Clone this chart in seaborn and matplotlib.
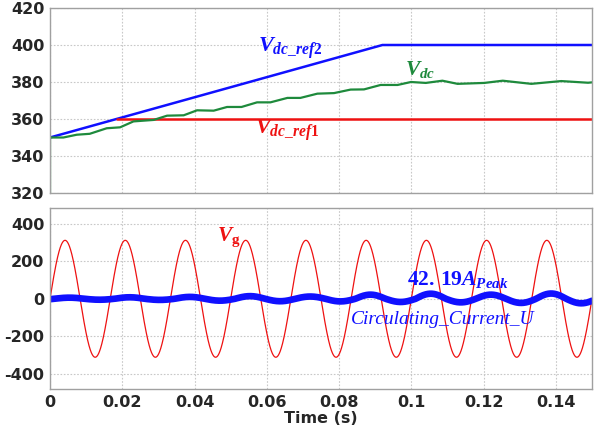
import numpy as np
import pandas as pd
import matplotlib
matplotlib.use("Agg")
import matplotlib.pyplot as plt
import seaborn as sns

# ---------------- data ----------------
# DC-link voltage Vdc (t in s, V)
vdc_t = [0.0, 0.0, 0.0037, 0.0074, 0.011, 0.0157, 0.0194, 0.0231, 0.0287, 0.0324,
         0.037, 0.0407, 0.0453, 0.049, 0.053, 0.0573, 0.061, 0.0657, 0.0693,
         0.074, 0.0786, 0.0832, 0.0869, 0.0915, 0.0962, 0.0999, 0.104, 0.1086,
         0.1128, 0.1202, 0.1253, 0.1332, 0.1415, 0.1489, 0.15]
vdc_v = [318, 350, 350, 351.5, 352, 355, 355.5, 358.7, 359.5, 361.8,
         362, 364.7, 364.5, 366.5, 366.5, 369, 369, 371.4, 371.4,
         373.7, 374, 375.9, 376, 378.4, 378.4, 380, 379.5, 380.7,
         379, 379.5, 380.7, 379, 380.5, 379.6, 379.8]
# Reference 2 (ramp then hold)
ref2_t = [0.0, 0.092, 0.15]
ref2_v = [350, 400, 400]
# Reference 1 (constant)
ref1_t = [0.0185, 0.15]
ref1_v = [360, 360]

# Grid voltage Vg: sinusoid parameters
vg_amp = 311.0      # V peak
grid_freq = 60.0    # Hz
# Circulating current: per-cycle positive peaks / negative troughs (A)
cc_peaks = [6, 8, 10, 14, 12, 22, 27, 22, 28]
cc_troughs = [-5, -6, -10, -13, -14, -17, -19, -22, -24]
cc_lag = 0.0012     # s

xticks = [0, 0.02, 0.04, 0.06, 0.08, 0.1, 0.12, 0.14]
xtick_labels = ["0", "0.02", "0.04", "0.06", "0.08", "0.1", "0.12", "0.14"]
top_yticks = [320, 340, 360, 380, 400, 420]
bot_yticks = [-400, -200, 0, 200, 400]

# ---------------- build frames ----------------
t = np.linspace(0, 0.15, 3000)
vg = vg_amp * np.sin(2 * np.pi * grid_freq * t)
period = 1.0 / grid_freq
tc = t - cc_lag
cyc = np.clip(np.floor(np.clip(tc, 0, None) / period).astype(int), 0, len(cc_peaks) - 1)
s = np.sin(2 * np.pi * grid_freq * tc)
cc = np.where(s >= 0, np.array(cc_peaks)[cyc] * s, -np.array(cc_troughs)[cyc] * s)

df_vdc = pd.DataFrame({"t": vdc_t, "v": vdc_v})
df_ref2 = pd.DataFrame({"t": ref2_t, "v": ref2_v})
df_ref1 = pd.DataFrame({"t": ref1_t, "v": ref1_v})
df_vg = pd.DataFrame({"t": t, "v": vg})
df_cc = pd.DataFrame({"t": t, "v": cc})

# ---------------- style ----------------
sns.set_style("white")
plt.rcParams["font.family"] = ["DejaVu Sans"]
plt.rcParams["mathtext.fontset"] = "custom"
plt.rcParams["mathtext.it"] = "Liberation Serif:italic:bold"
plt.rcParams["mathtext.rm"] = "Liberation Serif:bold"
plt.rcParams["mathtext.bf"] = "Liberation Serif:bold"

fig = plt.figure(figsize=(5.96, 4.32), dpi=100)
W, H = 596, 432
ax1 = fig.add_axes([50 / W, 1 - 193 / H, 542 / W, 185 / H])
ax2 = fig.add_axes([50 / W, 1 - 389 / H, 542 / W, 181 / H])

GREEN = "#1e8a3c"
BLUE = "#1010ff"
RED = "#ee1111"

sns.lineplot(data=df_ref2, x="t", y="v", ax=ax1, color=BLUE, lw=1.8, estimator=None, sort=False)
sns.lineplot(data=df_ref1, x="t", y="v", ax=ax1, color=RED, lw=1.8, estimator=None, sort=False)
sns.lineplot(data=df_vdc, x="t", y="v", ax=ax1, color=GREEN, lw=1.6, estimator=None, sort=False)

sns.lineplot(data=df_vg, x="t", y="v", ax=ax2, color=RED, lw=0.9, estimator=None, sort=False)
sns.lineplot(data=df_cc, x="t", y="v", ax=ax2, color=BLUE, lw=4.8, estimator=None, sort=False)

for ax in (ax1, ax2):
    ax.set_xlim(0, 0.15)
    ax.set_xticks(xticks)
    ax.grid(True, color="#c8c8c8", linestyle=(0, (1.5, 1.5)), linewidth=0.8)
    for sp in ax.spines.values():
        sp.set_color("#a0a0a0")
        sp.set_linewidth(1.0)
    ax.set_xlabel("")
    ax.set_ylabel("")
    ax.tick_params(axis="both", length=0, labelsize=11.5, pad=4)

ax1.set_ylim(320, 420)
ax1.set_yticks(top_yticks)
ax1.set_yticklabels([str(v) for v in top_yticks], fontweight="bold", fontsize=11.5)
ax1.set_xticklabels([])

ax2.set_ylim(-480, 483)
ax2.set_yticks(bot_yticks)
ax2.set_yticklabels([str(v) for v in bot_yticks], fontweight="bold", fontsize=11.5)
ax2.set_xticklabels(xtick_labels, fontweight="bold", fontsize=11.5)
ax2.set_xlabel("Time (s)", fontweight="bold", fontsize=11.5, labelpad=1)

# annotations
ax1.text(0.0575, 398.4, r"$V_{dc\_ref2}$", color=BLUE, fontsize=16, va="center", ha="left")
ax1.text(0.0982, 386.5, r"$V_{dc}$", color=GREEN, fontsize=15.5, va="center", ha="left")
ax1.text(0.0567, 354.0, r"$V_{dc\_ref1}$", color=RED, fontsize=16, va="center", ha="left")
ax2.text(0.0463, 325, r"$V_{\mathrm{g}}$", color=RED, fontsize=15.5, va="center", ha="left")
ax2.text(0.0988, 100, r"$\mathrm{42.\,19}A_{Peak}$", color=BLUE, fontsize=15.5, va="center", ha="left")
ax2.text(0.0832, -112, "Circulating_Current_U", color=BLUE, fontsize=14, va="center", ha="left",
         family="Liberation Serif", style="italic")

fig.savefig("out.png", dpi=100, facecolor="white")
